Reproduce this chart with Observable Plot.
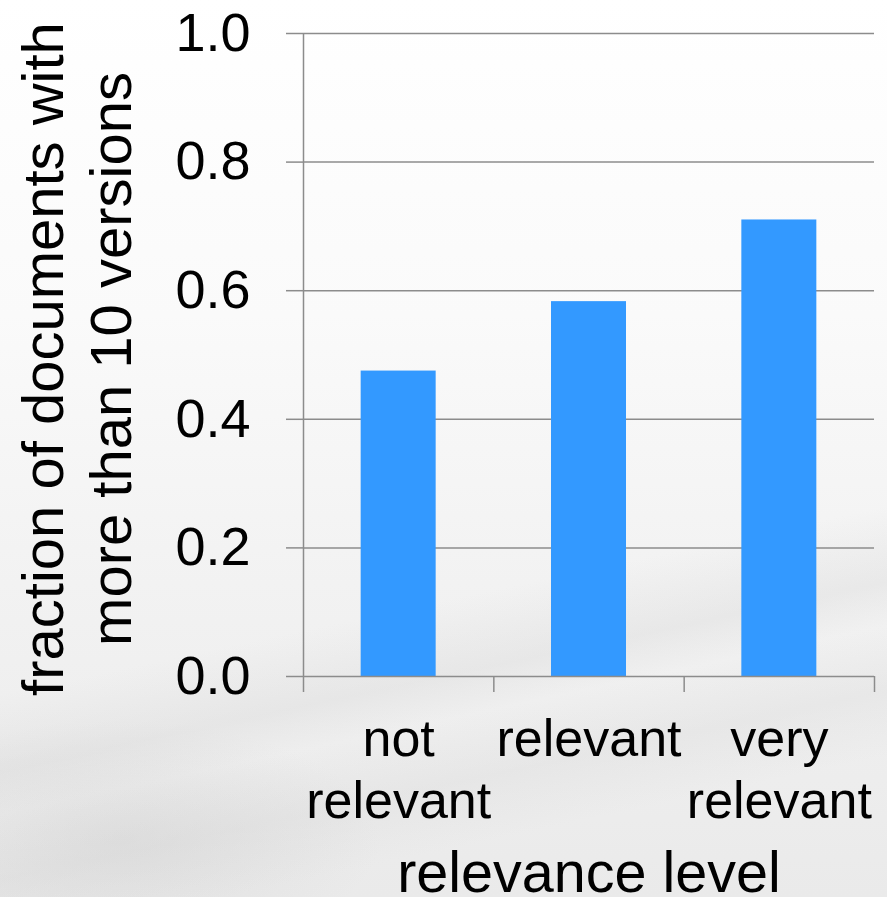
<!DOCTYPE html>
<html>
<head>
<meta charset="utf-8">
<script src="https://cdn.jsdelivr.net/npm/d3@7"></script>
<script src="https://cdn.jsdelivr.net/npm/@observablehq/plot@0.6"></script>
<style>
html, body { margin: 0; padding: 0; }
body {
  width: 887px; height: 897px; overflow: hidden;
  background:
    linear-gradient(168deg, rgba(255,255,255,0) 64%, rgba(205,205,205,0.25) 71%, rgba(255,255,255,0) 75%, rgba(210,210,210,0.25) 81%, rgba(255,255,255,0) 87%),
    radial-gradient(ellipse 260px 120px at 120px 840px, rgba(195,195,195,0.3), rgba(195,195,195,0) 100%),
    linear-gradient(to bottom, #ffffff 0%, #fafafa 35%, #f2f2f2 65%, #eaeaea 100%);
}
#chart svg { display: block; }
</style>
</head>
<body>
<div id="chart"></div>
<script>
const categories = ["not\nrelevant", "relevant", "very\nrelevant"];
const values = [0.475, 0.583, 0.71];
const yTicks = [0, 0.2, 0.4, 0.6, 0.8, 1.0];
const xTitle = "relevance level";
const yTitle = "fraction of documents with\nmore than 10 versions";

const data = categories.map((c, i) => ({category: c, index: i, value: values[i]}));
const boundaries = d3.range(categories.length + 1);
const halfBar = 0.197;
const gridColor = "#8c8c8c";

const chart = Plot.plot({
  width: 887,
  height: 897,
  marginLeft: 303,
  marginRight: 13,
  marginTop: 33,
  marginBottom: 221,
  style: {background: "transparent", fontFamily: "'Liberation Sans', Arial, sans-serif", color: "#000", overflow: "visible"},
  x: {domain: [0, categories.length], axis: null},
  y: {domain: [0, 1], axis: null},
  marks: [
    Plot.ruleY(yTicks.filter(d => d > 0), {stroke: gridColor, strokeWidth: 1.5}),
    Plot.rectY(data, {x1: d => d.index + 0.5 - halfBar, x2: d => d.index + 0.5 + halfBar, y: "value", fill: "#3399ff"}),
    Plot.axisY({ticks: yTicks, tickSize: 17, tickPadding: 36, tickFormat: d3.format(".1f"), fontSize: 54, stroke: gridColor, strokeWidth: 1.5, fill: "#000", label: null}),
    Plot.axisX({ticks: boundaries, tickSize: 16, tickFormat: () => "", stroke: gridColor, strokeWidth: 1.5, label: null}),
    Plot.ruleY([0], {stroke: gridColor, strokeWidth: 1.5}),
    Plot.ruleX([0], {stroke: gridColor, strokeWidth: 1.5}),
    Plot.text(data, {x: d => d.index + 0.5, y: 0, text: "category", lineAnchor: "top", dy: 35, fontSize: 52, lineHeight: 1.2, fill: "#000"}),
    Plot.text([xTitle], {frameAnchor: "bottom", lineAnchor: "bottom", dy: 215, fontSize: 57.5, fill: "#000"}),
    Plot.text([yTitle], {frameAnchor: "left", textAnchor: "middle", rotate: -90, dx: -228, dy: 4, fontSize: 58, lineHeight: 1.17, fill: "#000"})
  ]
});
document.getElementById("chart").appendChild(chart);
</script>
</body>
</html>
